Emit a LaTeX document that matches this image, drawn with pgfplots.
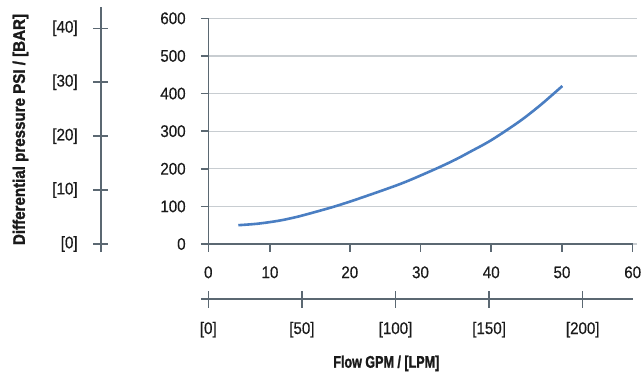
\documentclass[border=0pt]{standalone}
\usepackage{fontspec}
\setmainfont{Liberation Sans}[FakeStretch=0.9, FakeBold=0.5, BoldFeatures={FakeBold=1.6}]
\usepackage{pgfplots}
\pgfplotsset{compat=1.18}
\definecolor{axc}{HTML}{5B6872}
\definecolor{gridc}{HTML}{C8CDD1}
\definecolor{curvec}{HTML}{4A7EC2}
\definecolor{txt}{HTML}{1A1A1A}
\newcommand{\tfont}{\fontsize{16.8}{18}\selectfont}
\begin{document}
\begin{tikzpicture}[x=1pt,y=1pt]
\useasboundingbox (0,0) rectangle (644,373);
% main PSI / GPM axis
\begin{axis}[
  at={(208.3pt,129pt)}, anchor=south west,
  scale only axis, width=429pt, height=225.7pt,
  xmin=0, xmax=60.65, ymin=0, ymax=600,
  axis lines*=left,
  axis line style={axc, line width=1.6pt},
  x axis line style={draw=none},
  tick align=outside,
  major tick length=7.5pt,
  major tick style={axc, line width=1.5pt},
  xtick={0,8.72,20,30,40,50,60},
  xticklabels={0,10,20,30,40,50,60},
  ytick={0,100,200,300,400,500,600},
  yticklabels={0,100,200,300,400,500,600},
  ymajorgrids,
  major grid style={gridc, line width=1.3pt},
  tick label style={font=\tfont, text=txt, inner sep=0pt},
  yticklabel style={anchor=east, xshift=-15pt},
  xticklabel style={anchor=base, yshift=-26.6pt},
  clip=false,
]
\draw[axc, line width=1.6pt] (axis cs:-1,0) -- (axis cs:60,0);
\addplot[smooth, curvec, line width=2.6pt] coordinates {
(4.24,50) (7,54) (10,62) (12.5,72) (15,84.5) (17.9,100) (20.7,117) (25,145) (28,166)
(32.3,201) (35,225) (37,245) (40,276) (44,326) (47,370) (50.05,420)
};
\end{axis}
% LPM axis
\begin{axis}[
  at={(201.2pt,74pt)}, anchor=south west,
  scale only axis, width=431.5pt, height=1pt,
  xmin=-3.78, xmax=226.7, ymin=0, ymax=1,
  axis x line*=bottom, axis y line=none,
  axis line style={axc, line width=1.6pt},
  tick align=center,
  major tick length=17pt,
  major tick style={axc, line width=1.5pt},
  xtick={0,50,100,150,200},
  xticklabels={[0],[50],[100],[150],[200]},
  tick label style={font=\tfont, text=txt, inner sep=0pt},
  xticklabel style={anchor=base, yshift=-26.5pt},
  clip=false,
]
\end{axis}
% BAR axis
\begin{axis}[
  at={(100.7pt,121pt)}, anchor=south west,
  scale only axis, width=1pt, height=245.3pt,
  xmin=0, xmax=1, ymin=-1.484, ymax=44.0,
  axis y line*=left, axis x line=none,
  axis line style={axc, line width=1.6pt},
  tick align=center,
  major tick length=15pt,
  major tick style={axc, line width=1.5pt},
  ytick={0,10,20,30,40},
  yticklabels={[0],[10],[20],[30],[40]},
  tick label style={font=\tfont, text=txt, inner sep=0pt},
  yticklabel style={anchor=east, xshift=-15.4pt},
  clip=false,
]
\end{axis}
\node[rotate=90, font=\bfseries\tfont, text=txt] at (20.5,243.5) {Differential pressure PSI / [BAR]};
\node[anchor=base, font=\bfseries\tfont, text=txt] at (386.3,5.3) {\scalebox{0.83}[1]{Flow GPM / [LPM]}};
\end{tikzpicture}
\end{document}
